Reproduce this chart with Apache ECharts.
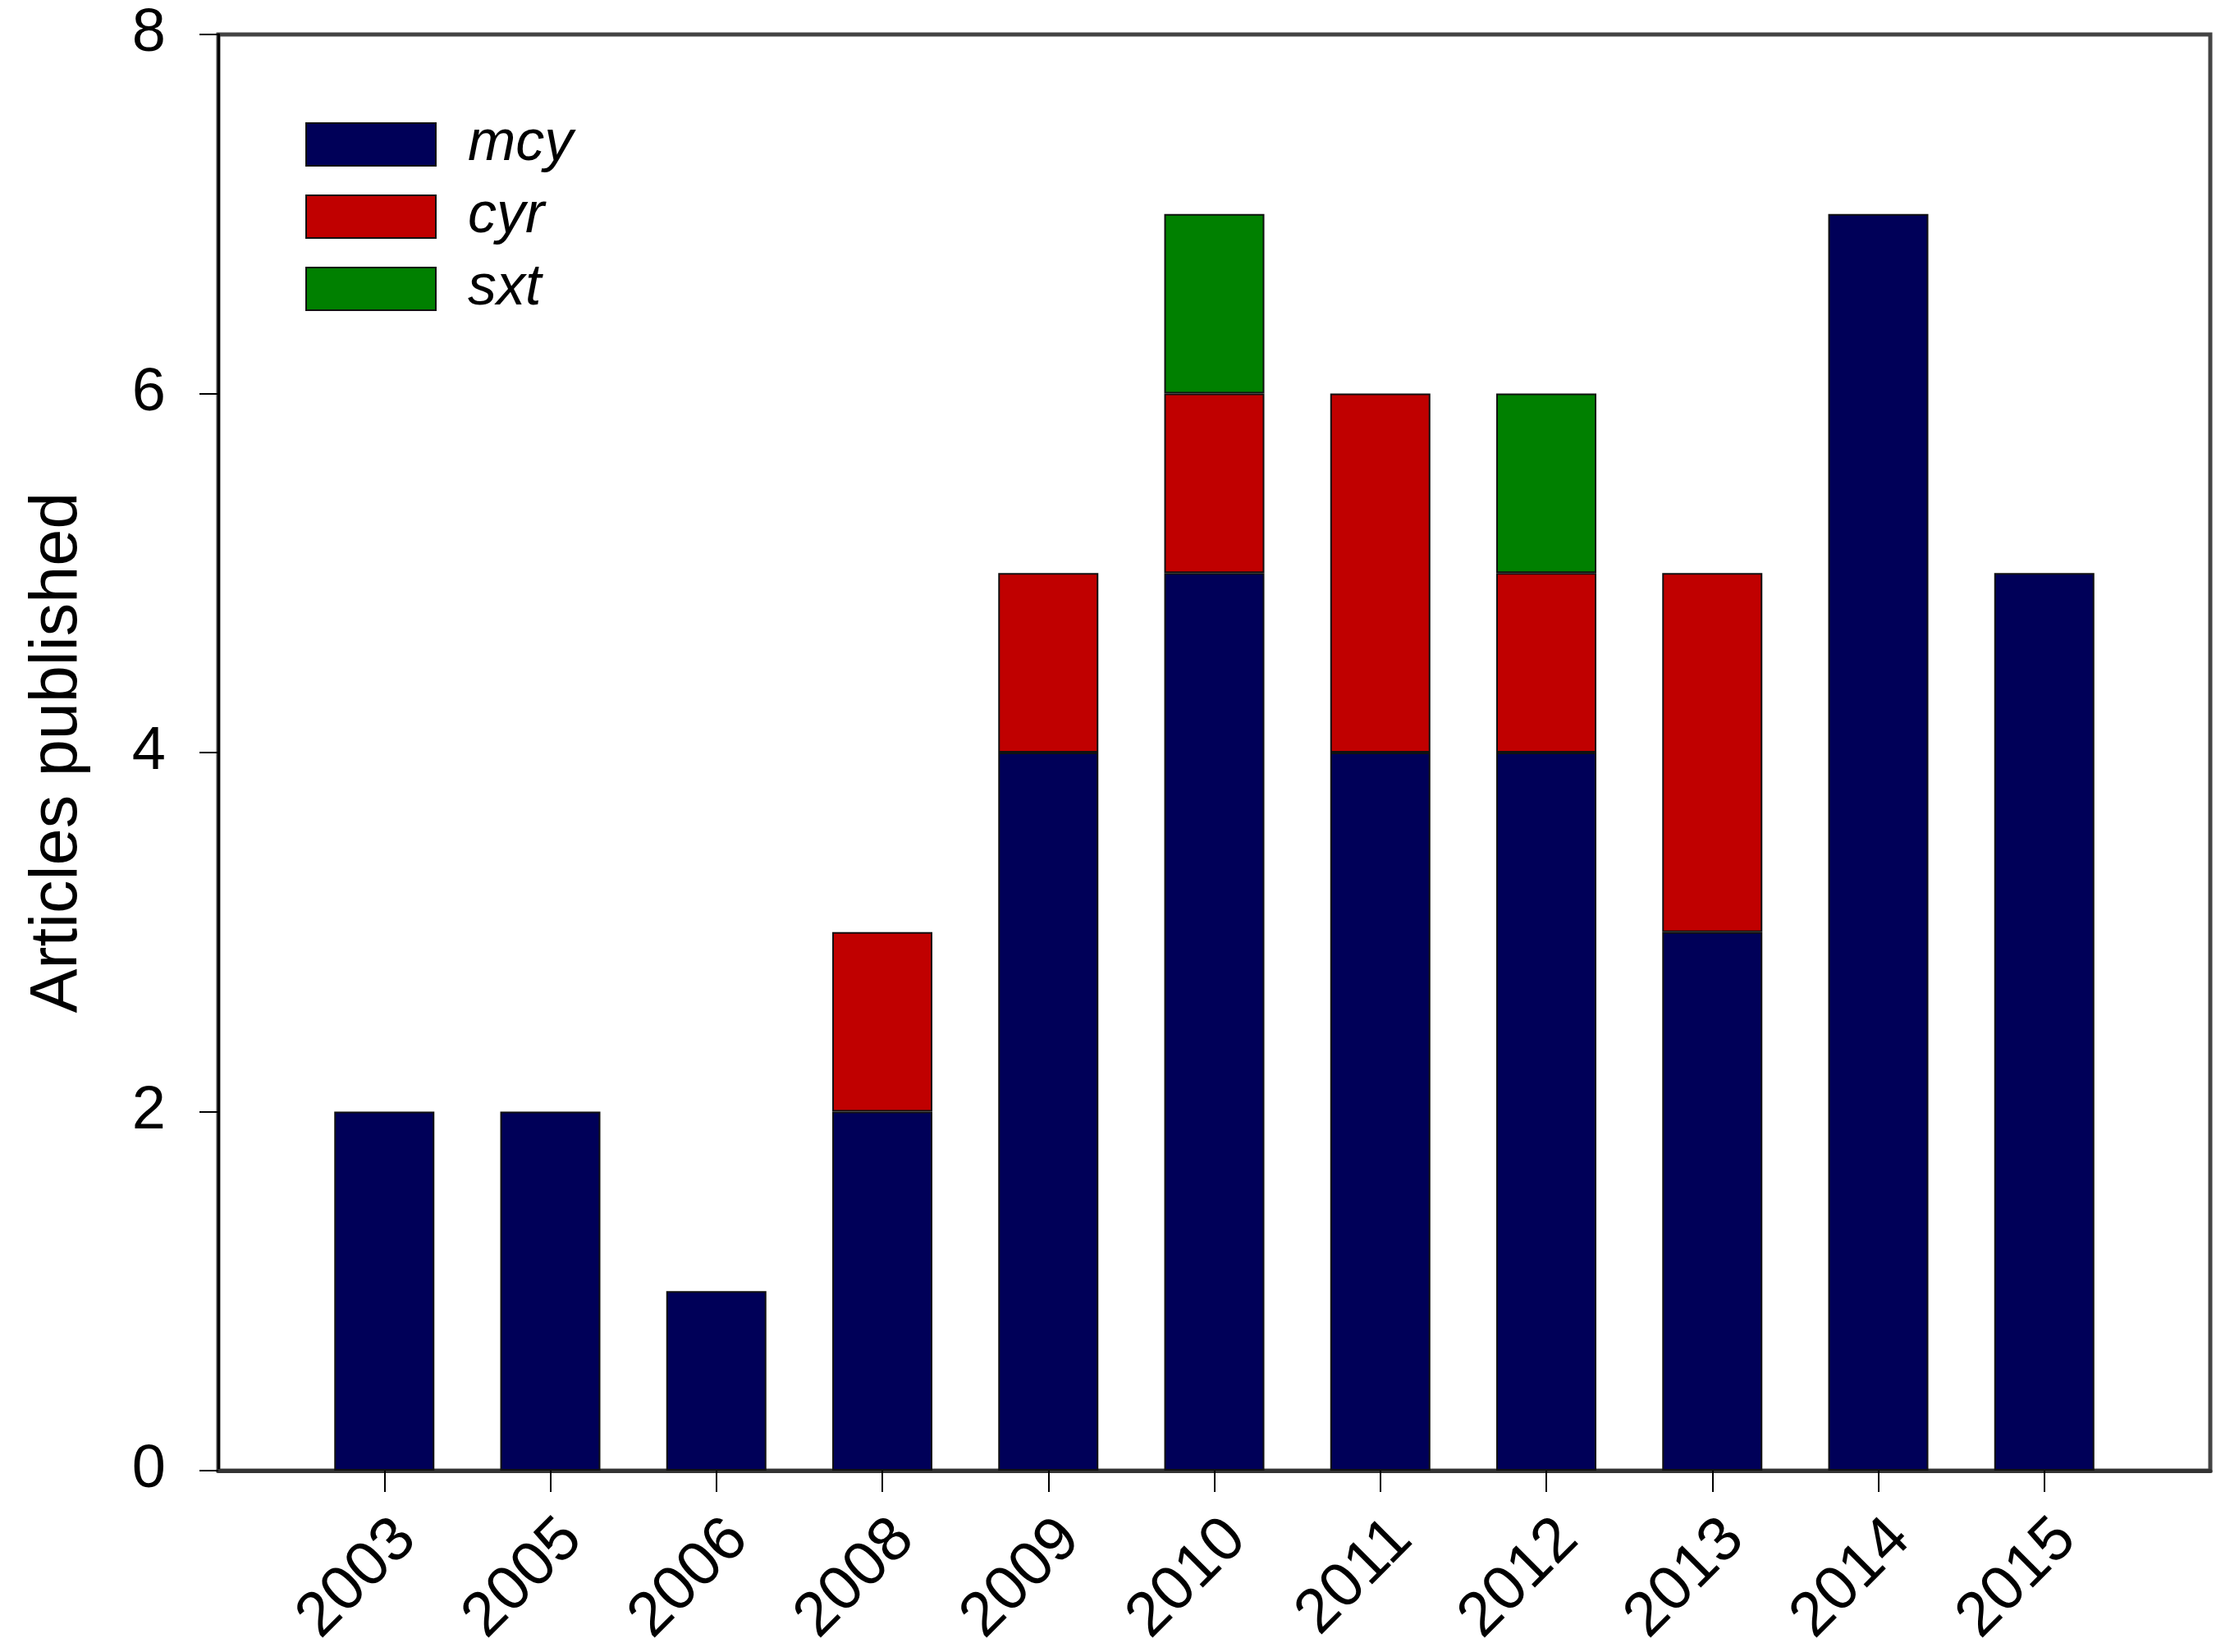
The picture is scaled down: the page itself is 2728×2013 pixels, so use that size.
<!DOCTYPE html>
<html>
<head>
<meta charset="utf-8">
<script src="https://cdn.jsdelivr.net/npm/echarts@6/dist/echarts.min.js"></script>
<style>html,body{margin:0;padding:0;background:#fff}#c{width:2728px;height:2013px}</style>
</head>
<body>
<div id="c"></div>
<script>
const years = ['2003','2005','2006','2008','2009','2010','2011','2012','2013','2014','2015'];
const mcy = [2,2,1,2,4,5,4,4,3,7,5];
const cyr = [0,0,0,1,1,1,2,1,2,0,0];
const sxt = [0,0,0,0,0,1,0,1,0,0,0];
const yTicks = [0,2,4,6,8];

const cats = [''].concat(years, ['']);
const pad = arr => [null].concat(arr.map(v => v === 0 ? null : v), [null]);
const font = 'Liberation Sans, Arial, sans-serif';
const border = {borderColor:'#111', borderWidth:2};

const chart = echarts.init(document.getElementById('c'), null, {renderer:'canvas'});
chart.setOption({
  animation:false,
  backgroundColor:'#fff',
  grid:{left:266, right:35, top:42, bottom:221, show:true, borderColor:'#444', borderWidth:5, backgroundColor:'transparent'},
  legend:{
    left:372, top:141, orient:'vertical', padding:0,
    itemWidth:158, itemHeight:52, itemGap:18, icon:'rect',
    textStyle:{fontFamily:font, fontSize:70, fontStyle:'italic', color:'#000', padding:[0,0,0,34]},
    data:['mcy','cyr','sxt']
  },
  xAxis:{
    type:'category', data:cats, boundaryGap:false,
    axisLine:{lineStyle:{color:'#333', width:5}},
    axisTick:{show:true, length:26, lineStyle:{color:'#000', width:2}, interval:(i)=> i>0 && i<cats.length-1},
    axisLabel:{interval:(i)=> i>0 && i<cats.length-1, rotate:45, margin:45, verticalAlign:'top', fontFamily:font, fontSize:76, color:'#000'},
    splitLine:{show:false}
  },
  yAxis:{
    type:'value', min:yTicks[0], max:yTicks[yTicks.length-1], interval:2,
    name:'Articles published', nameLocation:'middle', nameGap:155, nameRotate:90,
    nameTextStyle:{fontFamily:font, fontSize:81, color:'#000'},
    axisLine:{show:true, lineStyle:{color:'#000', width:3}},
    axisTick:{show:true, length:23, lineStyle:{color:'#000', width:2}},
    axisLabel:{margin:64, fontFamily:font, fontSize:74, color:'#000'},
    splitLine:{show:false}
  },
  series:[
    {name:'mcy', type:'bar', stack:'a', barWidth:122, data:pad(mcy), itemStyle:Object.assign({color:'#000058'}, border)},
    {name:'cyr', type:'bar', stack:'a', barWidth:122, data:pad(cyr), itemStyle:Object.assign({color:'#c00000'}, border)},
    {name:'sxt', type:'bar', stack:'a', barWidth:122, data:pad(sxt), itemStyle:Object.assign({color:'#008000'}, border)}
  ]
});
</script>
</body>
</html>
